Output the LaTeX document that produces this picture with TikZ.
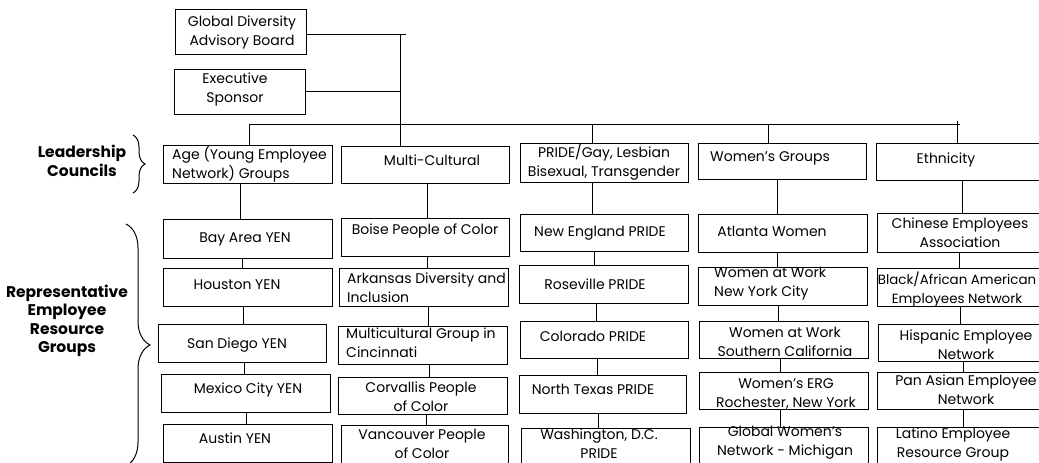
\documentclass[tikz,border=0pt]{standalone}
\usepackage{fontspec}
\setmainfont{Poppins}
\usetikzlibrary{decorations.pathreplacing}
\tikzset{
  box/.style={draw, line width=1pt, inner sep=0pt, outer sep=0pt, rectangle},
  txt/.style={font=\fontsize{14}{19}\selectfont, inner sep=0pt, align=center},
  ltxt/.style={txt, align=left, anchor=west},
  head/.style={font=\fontsize{15.5}{18.5}\selectfont\bfseries, inner sep=0pt, align=center},
  conn/.style={line width=1pt},
  brc/.style={line width=1pt, decorate, decoration={brace}},
}
% name, x1, y1, x2, y2
\newcommand\ebox[5]{%
  \node[box, minimum width={(#4-#2)*1pt}, minimum height={(#5-#3)*1pt}] (#1) at ({(#2+#4)/2},{(#3+#5)/2}) {};}
% vertical connector at x from node a (south) to node b (north)
\newcommand\vc[3]{\draw[conn] (#1.south -| #3,0) -- (#2.north -| #3,0);}
\begin{document}
\begin{tikzpicture}[x=1pt,y=-1pt]
\useasboundingbox (0,0) rectangle (1039,463);
\clip (0,0) rectangle (1039,463);
\fill[white] (0,0) rectangle (1039,463);

% top boxes
\ebox{gdab}{175}{9}{306}{54}
\node[txt] (gdabT) at (242,32) {Global Diversity\\Advisory Board};
\ebox{exec}{174}{69}{305}{114}
\node[txt] (execT) at (235,89) {Executive\\Sponsor};

% councils
\ebox{age}{163}{145}{332}{183}
\node[ltxt] (ageT) at (172,164) {Age (Young Employee\\Network) Groups};
\ebox{multi}{341}{146}{509}{183}
\node[txt] (multiT) at (432,160) {Multi-Cultural};
\ebox{pride}{520}{143}{688}{182}
\node[txt] (prideT) at (604,162) {PRIDE/Gay, Lesbian\\Bisexual, Transgender};
\ebox{women}{698}{143}{866}{179}
\node[txt] (womenT) at (770,158) {Women’s Groups};
\ebox{eth}{876}{143}{1046}{180}
\node[txt] (ethT) at (946,160) {Ethnicity};

% Age column
\ebox{bay}{163}{219}{332}{258}
\node[txt] (bayT) at (245,239) {Bay Area YEN};
\ebox{hou}{163}{268}{332}{306}
\node[txt] (houT) at (237,285) {Houston YEN};
\ebox{sd}{158}{324}{326}{362}
\node[txt] (sdT) at (237,345) {San Diego YEN};
\ebox{mex}{161}{374}{330}{412}
\node[txt] (mexT) at (248,390) {Mexico City YEN};
\ebox{aus}{163}{424}{332}{462}
\node[txt] (ausT) at (235,438) {Austin YEN};

% Multi column
\ebox{boise}{341}{218}{509}{256}
\node[txt] (boiseT) at (425,231) {Boise People of Color};
\ebox{ark}{339}{268}{508}{306}
\node[ltxt] (arkT) at (347,288) {Arkansas Diversity and\\Inclusion};
\ebox{cin}{338}{326}{507}{364}
\node[ltxt] (cinT) at (346,343) {Multicultural Group in\\Cincinnati};
\ebox{cor}{338}{377}{507}{414}
\node[txt] (corT) at (421,397) {Corvallis People\\of Color};
\ebox{van}{341}{425}{508}{475}
\node[txt] (vanT) at (422,444) {Vancouver People\\of Color};

% PRIDE column
\ebox{ne}{520}{214}{688}{251}
\node[txt] (neT) at (600,233) {New England PRIDE};
\ebox{rose}{519}{265}{688}{303}
\node[txt] (roseT) at (595,284) {Roseville PRIDE};
\ebox{colo}{520}{321}{688}{358}
\node[txt] (coloT) at (593,336) {Colorado PRIDE};
\ebox{ntx}{519}{375}{686}{413}
\node[txt] (ntxT) at (593,389) {North Texas PRIDE};
\ebox{wdc}{521}{428}{690}{475}
\node[txt] (wdcT) at (599,444) {Washington, D.C.\\PRIDE};

% Women column
\ebox{atl}{698}{214}{867}{252}
\node[txt] (atlT) at (772,231) {Atlanta Women};
\ebox{nyc}{698}{267}{867}{305}
\node[ltxt] (nycT) at (714,284) {Women at Work\\New York City};
\ebox{soc}{699}{321}{868}{358}
\node[txt] (socT) at (785,342) {Women at Work\\Southern California};
\ebox{erg}{699}{372}{868}{409}
\node[txt] (ergT) at (786,394) {Women’s ERG\\Rochester, New York};
\ebox{gwn}{699}{427}{868}{475}
\node[txt] (gwnT) at (785,443) {Global Women’s\\Network - Michigan};

% Ethnicity column
\ebox{chi}{877}{213}{1046}{252}
\node[txt] (chiT) at (960,233) {Chinese Employees\\Association};
\ebox{blk}{877}{268}{1046}{306}
\node[txt, font=\fontsize{13.4}{19}\selectfont] (blkT) at (957,289) {Black/African American\\Employees Network};
\ebox{his}{878}{324}{1046}{361}
\node[txt] (hisT) at (966,345) {Hispanic Employee\\Network};
\ebox{pan}{877}{372}{1046}{409}
\node[txt] (panT) at (966,390) {Pan Asian Employee\\Network};
\ebox{lat}{877}{427}{1046}{475}
\node[txt] (latT) at (953,444) {Latino Employee\\Resource Group};

% side labels
\node[head] (lead) at (82,161) {Leadership\\Councils};
\node[head] (rep) at (67,321) {Representative\\Employee\\Resource\\Groups};
\coordinate (b1t) at (133,135);
\coordinate (b1b) at (133,193);
\draw[brc, decoration={brace, amplitude=12pt}] (b1t) -- (b1b);
\coordinate (b2t) at (126,224);
\coordinate (b2b) at (126,466);
\draw[brc, decoration={brace, amplitude=24pt}] (b2t) -- (b2b);

% trunk and bus
\coordinate (trunk) at (400,34);
\coordinate (trunkEnd) at (406,34);
\draw[conn] (gdab.east |- trunk) -- (trunkEnd);
\draw[conn] (trunk) -- (trunk |- multi.north);
\draw[conn] (exec.east |- 0,91) -- (400,91);
\coordinate (busL) at (249,124);
\coordinate (busR) at (960,124);
\draw[conn] (busL) -- (busR);
\draw[conn] (busL) -- (busL |- age.north);
\draw[conn] (pride.north -| 592,0) -- (592,124);
\draw[conn] (women.north -| 768,0) -- (768,124);
\draw[conn] (eth.north -| 957,0) -- (957,121);

% column connectors
\vc{age}{bay}{240}
\vc{bay}{hou}{242}
\vc{hou}{sd}{243}
\vc{sd}{mex}{244}
\vc{mex}{aus}{246}

\vc{multi}{boise}{427}
\vc{boise}{ark}{427}
\vc{ark}{cin}{428}
\vc{cin}{cor}{429}
\vc{cor}{van}{426}

\vc{pride}{ne}{592}
\vc{ne}{rose}{594}
\vc{rose}{colo}{596}
\vc{colo}{ntx}{597}
\vc{ntx}{wdc}{598}

\vc{women}{atl}{777}
\vc{atl}{nyc}{777}
\vc{nyc}{soc}{778}
\vc{soc}{erg}{780}
\vc{erg}{gwn}{780}

\vc{eth}{chi}{962}
\vc{chi}{blk}{959}
\vc{blk}{his}{960}
\vc{his}{pan}{963}
\vc{pan}{lat}{963}
\end{tikzpicture}
\end{document}
